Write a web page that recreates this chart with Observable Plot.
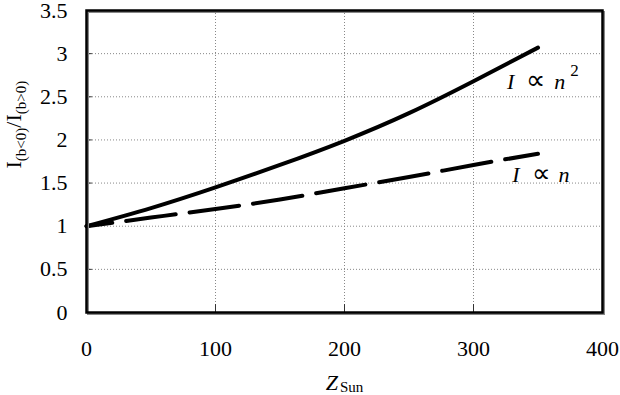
<!DOCTYPE html>
<html><head><meta charset="utf-8">
<script src="https://cdn.jsdelivr.net/npm/d3@7"></script>
<script src="https://cdn.jsdelivr.net/npm/@observablehq/plot@0.6"></script>
<style>
html,body{margin:0;padding:0;background:#fff;}
#chart svg{display:block;}
#chart svg, #chart svg text{font-family:'Liberation Serif','Times New Roman',serif !important;}
</style></head><body><div id="chart"></div>
<script>
// ---- data ----
const zSun = [0, 50, 100, 150, 200, 250, 300, 350];
const ratioN2 = [1, 1.21, 1.45, 1.71, 1.99, 2.31, 2.68, 3.07]; // I ∝ n^2 (solid)
const ratioN = [1, 1.1, 1.2, 1.31, 1.44, 1.57, 1.71, 1.84];    // I ∝ n (dashed)
const xTicks = [0, 100, 200, 300, 400];
const yTicks = [0, 0.5, 1, 1.5, 2, 2.5, 3, 3.5];
const annotations = [
  {x: 326, y: 2.596, kind: "n2"},
  {x: 330, y: 1.518, kind: "n1"}
];

const solid = zSun.map((z, i) => ({z, r: ratioN2[i]}));
const dashed = zSun.map((z, i) => ({z, r: ratioN[i]}));
const tickShape = {draw(ctx, l) { ctx.moveTo(0, 0); ctx.lineTo(0, -l); }};
const FONT = "'Liberation Serif', 'Times New Roman', serif";

const chart = Plot.plot({
  width: 620, height: 395,
  marginLeft: 86, marginRight: 18, marginTop: 10, marginBottom: 83,
  style: {fontFamily: FONT, fontSize: "22px", background: "#fff", color: "#000"},
  x: {domain: [0, 400], ticks: xTicks, label: null},
  y: {domain: [0, 3.5], ticks: yTicks, label: null},
  marks: [
    Plot.gridY(yTicks, {stroke: "#888", strokeOpacity: 1, strokeDasharray: "1,2", strokeWidth: 1}),
    Plot.gridX(xTicks, {stroke: "#888", strokeOpacity: 1, strokeDasharray: "1,2", strokeWidth: 1}),
    Plot.vector(xTicks, {x: d => d, y: 0, length: 8, rotate: 0, anchor: "start", shape: tickShape, stroke: "#333", strokeWidth: 1}),
    Plot.vector(yTicks, {x: 0, y: d => d, length: 5, rotate: 90, anchor: "start", shape: tickShape, stroke: "#333", strokeWidth: 1}),
    Plot.axisX(xTicks, {tickSize: 0, tickPadding: 28, fontSize: 22, tickFormat: d => String(d)}),
    Plot.axisY(yTicks, {tickSize: 0, tickPadding: 19, fontSize: 22, tickFormat: d => String(d)}),
    Plot.line(solid, {x: "z", y: "r", stroke: "#000", strokeWidth: 4, curve: "natural"}),
    Plot.line(dashed, {x: "z", y: "r", stroke: "#000", strokeWidth: 4, strokeDasharray: "50,14", strokeDashoffset: 24, curve: "natural"}),
    Plot.frame({stroke: "#888", strokeWidth: 2, dx: 1.5, dy: 1.5}),
    Plot.frame({stroke: "#000", strokeWidth: 2.5}),
    Plot.text(annotations, {x: "x", y: "y", text: d => d.kind, textAnchor: "start", lineAnchor: "bottom", fontSize: 22}),
    Plot.text(["ZSUNLABEL"], {frameAnchor: "bottom", dy: 77, lineAnchor: "bottom", fontSize: 22}),
    Plot.text(["YRATIOLABEL"], {frameAnchor: "left", rotate: -90, dx: -66, dy: 7, lineAnchor: "bottom", fontSize: 22})
  ]
});
document.getElementById("chart").appendChild(chart);

function rich(sel, parts) {
  sel.text(null);
  parts.forEach(p => {
    const t = sel.append("tspan").text(p.t);
    if (p.it) t.attr("font-style", "italic");
    if (p.fs) t.attr("font-size", p.fs);
    if (p.dy) t.attr("dy", p.dy);
    if (p.dx) t.attr("dx", p.dx);
    if (p.fw) t.attr("font-weight", p.fw);
  });
}
const svg = d3.select(chart);
const byText = s => svg.selectAll("text").filter(function() { return this.textContent === s; });
byText("n2").each(function() {
  rich(d3.select(this), [{t: "I", it: true}, {t: "∝", dx: 12, fs: 27}, {t: "n", it: true, dx: 9}, {t: "2", fs: 17, dx: 5, dy: -13}]);
});
byText("n1").each(function() {
  rich(d3.select(this), [{t: "I", it: true}, {t: "∝", dx: 12, fs: 26}, {t: "n", it: true, dx: 8}]);
});
byText("ZSUNLABEL").each(function() {
  rich(d3.select(this), [{t: "Z", it: true}, {t: "Sun", fs: 15, dx: 2, dy: 2}]);
});
byText("YRATIOLABEL").each(function() {
  rich(d3.select(this), [{t: "I"}, {t: "(b<0)", fs: 15, dy: 5}, {t: "/I", dy: -5}, {t: "(b>0)", fs: 15, dy: 5}]);
});
</script>
</body></html>
